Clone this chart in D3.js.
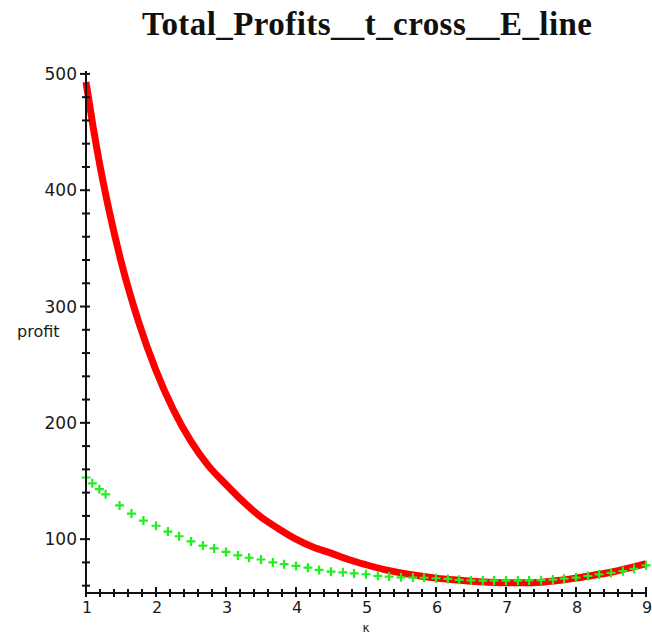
<!DOCTYPE html>
<html>
<head>
<meta charset="utf-8">
<script src="https://cdn.jsdelivr.net/npm/d3@7/dist/d3.min.js"></script>
<style>
html,body{margin:0;padding:0;background:#fff;}
svg{display:block;}
</style>
</head>
<body>
<svg id="chart" width="652" height="635"></svg>
<script>
// ---- data ----
const titleText = "Total_Profits__t_cross__E_line";
const xLabel = "\u03ba";
const yLabel = "profit";
const xTickLabels = [1, 2, 3, 4, 5, 6, 7, 8, 9];
const yTickLabels = [100, 200, 300, 400, 500];

const redK = [1.0, 1.1, 1.2, 1.3, 1.4, 1.5, 1.75, 2.0, 2.25, 2.5, 2.75, 3.0, 3.25, 3.5, 3.75, 4.0, 4.25, 4.5, 4.75, 5.0, 5.25, 5.5, 5.75, 6.0, 6.25, 6.5, 6.75, 7.0, 7.25, 7.5, 7.75, 8.0, 8.25, 8.5, 8.75, 9.0];
const redV = [493, 455, 421, 391, 364, 339, 287, 245, 211, 184, 163, 147, 132, 119, 109, 100, 93, 88, 82.5, 78, 74, 71, 68.5, 66.5, 65, 63.8, 63, 62.5, 62.5, 63, 64.5, 66.5, 69, 71.5, 75, 79];

const greenK = [1.0, 1.09, 1.19, 1.28, 1.48, 1.65, 1.82, 2.0, 2.17, 2.33, 2.5, 2.67, 2.83, 3.0, 3.17, 3.33, 3.5, 3.67, 3.83, 4.0, 4.17, 4.33, 4.5, 4.67, 4.83, 5.0, 5.17, 5.33, 5.5, 5.67, 5.83, 6.0, 6.17, 6.33, 6.5, 6.67, 6.83, 7.0, 7.17, 7.33, 7.5, 7.67, 7.83, 8.0, 8.17, 8.33, 8.5, 8.67, 8.83, 9.0];
const greenV = [153, 148, 143, 138.5, 129, 122, 116, 111.5, 106.5, 102.5, 98, 94.5, 92, 89, 86, 84, 82.5, 80, 78.5, 77, 75.5, 73.5, 72, 71.5, 70.5, 69.8, 68.5, 67.8, 67.2, 67, 66.8, 66.4, 65.8, 65, 64.5, 64.4, 64.4, 64.4, 64.4, 64.5, 64.7, 65.2, 66, 67, 68.3, 69.7, 71, 72.5, 74.5, 77.5];

// ---- scales ----
const svg = d3.select("#chart");
const x = d3.scaleLinear().domain([1, 9]).range([86, 646]);
const y = d3.scaleLinear().domain([53.7, 502.5]).range([593, 71]);
const x0 = x(1), y0 = y(53.7);

// title
svg.append("text")
  .attr("x", (x.range()[0] + x.range()[1]) / 2 + 1)
  .attr("y", 35)
  .attr("text-anchor", "middle")
  .attr("font-family", "'Liberation Serif', 'Times New Roman', serif")
  .attr("font-weight", "bold")
  .attr("font-size", 33)
  .attr("textLength", 450)
  .attr("lengthAdjust", "spacing")
  .attr("fill", "#111")
  .text(titleText);

// red curve
const redData = redK.map((k, i) => [k, redV[i]]);
svg.append("path")
  .datum(redData)
  .attr("fill", "none")
  .attr("stroke", "#ff0000")
  .attr("stroke-width", 7)
  .attr("stroke-linejoin", "round")
  .attr("stroke-linecap", "butt")
  .attr("d", d3.line().x(d => x(d[0])).y(d => y(d[1])).curve(d3.curveMonotoneX));

// green crosses
const greenData = greenK.map((k, i) => [k, greenV[i]]);
const cs = 4.5;
svg.append("g").selectAll("path")
  .data(greenData)
  .join("path")
  .attr("d", d => {
    const cx = x(d[0]), cy = y(d[1]);
    return `M${cx - cs},${cy}H${cx + cs}M${cx},${cy - cs}V${cy + cs}`;
  })
  .attr("stroke", "#22ee22")
  .attr("stroke-width", 2.2)
  .attr("fill", "none");

// axes
const axes = svg.append("g").attr("stroke", "#111").attr("stroke-width", 2);
axes.append("line").attr("x1", x0).attr("x2", x0).attr("y1", y0).attr("y2", y(502.5));
axes.append("line").attr("x1", x0).attr("x2", x(9)).attr("y1", y0).attr("y2", y0);

// y ticks
const yMinor = d3.range(60, 501, 20);
axes.selectAll(".ym").data(yMinor).join("line")
  .attr("x1", v => x0 - (v % 100 === 0 ? 6 : 4))
  .attr("x2", x0 + 4)
  .attr("y1", v => y(v)).attr("y2", v => y(v));

// x ticks
const xMinor = d3.range(0, 41).map(i => 1 + i * 0.2);
axes.selectAll(".xm").data(xMinor).join("line")
  .attr("x1", v => x(v)).attr("x2", v => x(v))
  .attr("y1", v => y0 - (Math.abs(v - Math.round(v)) < 1e-6 ? 6 : 4))
  .attr("y2", y0 + 4);

const labelFont = "'DejaVu Sans', Verdana, sans-serif";
svg.append("g").selectAll("text").data(yTickLabels).join("text")
  .attr("x", x0 - 9)
  .attr("y", v => y(v))
  .attr("dy", "0.36em")
  .attr("text-anchor", "end")
  .attr("font-family", labelFont)
  .attr("font-size", 17)
  .attr("fill", "#1a1a1a")
  .text(v => v);

svg.append("g").selectAll("text").data(xTickLabels).join("text")
  .attr("x", v => x(v) + 1)
  .attr("y", 613)
  .attr("text-anchor", "middle")
  .attr("font-family", labelFont)
  .attr("font-size", 16)
  .attr("fill", "#1a1a1a")
  .text(v => v);

svg.append("text")
  .attr("x", x(5))
  .attr("y", 632)
  .attr("text-anchor", "middle")
  .attr("font-family", labelFont)
  .attr("font-size", 12)
  .attr("fill", "#1a1a1a")
  .text(xLabel);

svg.append("text")
  .attr("x", 17)
  .attr("y", 337)
  .attr("font-family", labelFont)
  .attr("font-size", 16)
  .attr("fill", "#1a1a1a")
  .text(yLabel);
</script>
</body>
</html>
